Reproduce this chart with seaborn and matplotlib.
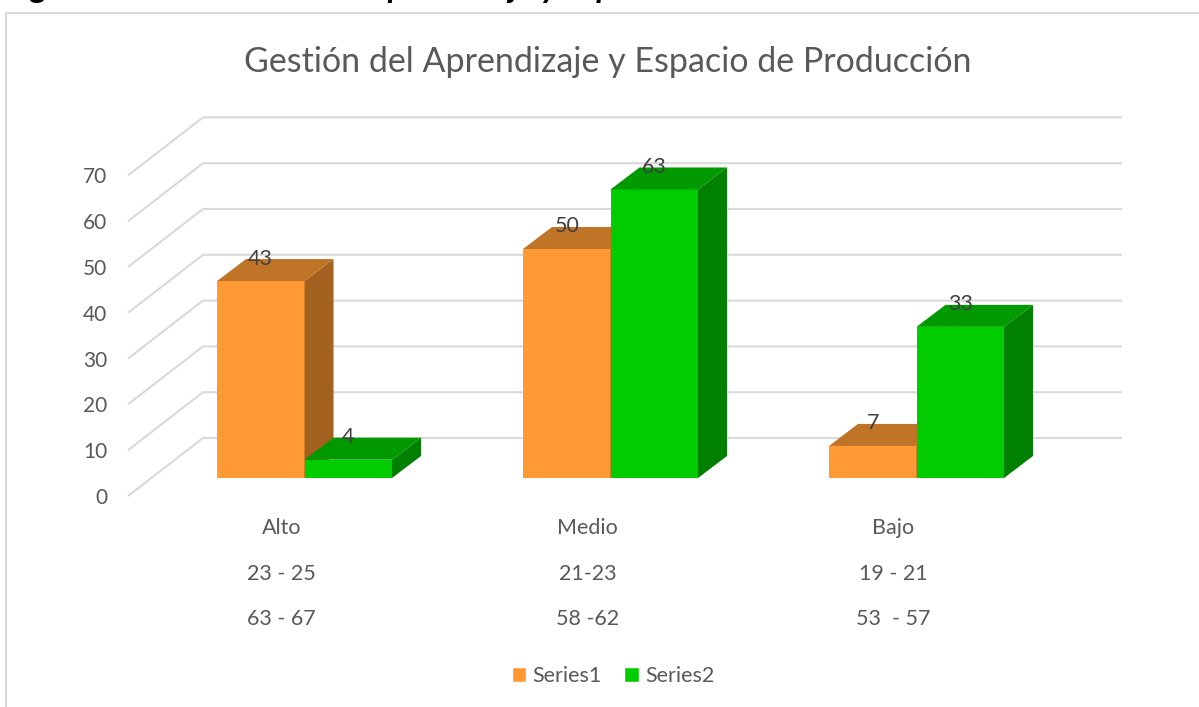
import matplotlib
matplotlib.use("Agg")
import matplotlib.pyplot as plt
import pandas as pd
import seaborn as sns
from matplotlib.lines import Line2D
from matplotlib.patches import Polygon
from matplotlib.transforms import ScaledTranslation

niveles = ["Alto", "Medio", "Bajo"]
rango_a = ["23 - 25", "21-23", "19 - 21"]
rango_b = ["63 - 67", "58 -62", "53  - 57"]
series1 = [43, 50, 7]
series2 = [4, 63, 33]
y_ticks = [0, 10, 20, 30, 40, 50, 60, 70]

W, H = 1199, 707
PX_PER_UNIT = 4.58
GROUP_PX = 306
BASE_PY = 478
DX = 29 / GROUP_PX          # bar depth, category units
DY = 22 / PX_PER_UNIT       # bar depth, value units
WALL_DY = 58 / PX_PER_UNIT  # floor depth of the back wall
GREY = "#595959"
GRID = "#D9D9D9"

sns.set_theme(style="white")
plt.rcParams["font.family"] = ["Lato", "DejaVu Sans"]

labels = [f"{a}\n{b}\n{c}" for a, b, c in zip(niveles, rango_a, rango_b)]
df = pd.DataFrame({
    "nivel": labels * 2,
    "valor": series1 + series2,
    "serie": ["Series1"] * 3 + ["Series2"] * 3,
})

fig = plt.figure(figsize=(W / 100, H / 100), dpi=100, facecolor="white")
left, right, top, bottom = 128, 1122, 100, 496
ax = fig.add_axes([left / W, 1 - bottom / H, (right - left) / W, (bottom - top) / H])

sns.barplot(
    df, x="nivel", y="valor", hue="serie",
    palette={"Series1": "#FF9933", "Series2": "#00CC00"},
    width=175 / GROUP_PX, gap=0, saturation=1, ax=ax,
)

ax.set_xlim((left - 304.5) / GROUP_PX, (right - 304.5) / GROUP_PX)
ax.set_ylim((BASE_PY - bottom) / PX_PER_UNIT, (BASE_PY - top) / PX_PER_UNIT)
ax.set_xlabel("")
ax.set_ylabel("")
sns.despine(ax=ax, left=True, bottom=True)

# back wall and side wall gridlines
x_start = ax.get_xlim()[0]
x_wall = (203 - 304.5) / GROUP_PX
y_floor = ax.get_ylim()[0]
for v in y_ticks:
    ax.plot([x_start, x_wall, ax.get_xlim()[1]],
            [y_floor + v, y_floor + v + WALL_DY, y_floor + v + WALL_DY],
            color=GRID, lw=1.5, zorder=1, solid_capstyle="butt", clip_on=False)

# fake 3d sides, built from the bars seaborn drew
bars = [p for p in ax.patches if p.get_height() > 0]
shades = {"#FF9933": ("#C07427", "#A3611F"), "#00CC00": ("#009900", "#008000")}
fronts = ["#FF9933"] * 3 + ["#00CC00"] * 3
z = 3
for bar, front in zip(bars, fronts):
    x0, x1 = bar.get_x(), bar.get_x() + bar.get_width()
    h = bar.get_height()
    top_col, side_col = shades[front]
    bar.set_zorder(z)
    bar.set_linewidth(0)
    ax.add_patch(Polygon([(x1, 0), (x1, h), (x1 + DX, h + DY), (x1 + DX, DY)],
                         color=side_col, lw=0, zorder=z + 0.1))
    ax.add_patch(Polygon([(x0, h), (x1, h), (x1 + DX, h + DY), (x0 + DX, h + DY)],
                         color=top_col, lw=0, zorder=z + 0.2))
    z += 1
    ax.text(x0 + (x1 - x0) / 2, h + 22.5 / PX_PER_UNIT, f"{h:.0f}", ha="center", va="center",
            fontsize=15.5, color="#404040", zorder=20)

# ticks, shifted to sit where the 3d chart has them
ax.set_yticks(y_ticks)
ax.set_xticks(range(3))
ax.set_xticklabels(labels, linespacing=2.58, fontsize=15.5, color=GREY)
ax.tick_params(axis="y", length=0, pad=15, labelsize=15, labelcolor=GREY)
ax.tick_params(axis="x", length=0, pad=16)
shift_y = ScaledTranslation(0, -18 / 100, fig.dpi_scale_trans)
shift_x = ScaledTranslation(-23 / 100, 0, fig.dpi_scale_trans)
for t in ax.get_yticklabels():
    t.set_transform(t.get_transform() + shift_y)
for t in ax.get_xticklabels():
    t.set_transform(t.get_transform() + shift_x)

sns.move_legend(
    ax, "center", bbox_to_anchor=(613 / W, 1 - 676 / H), bbox_transform=fig.transFigure,
    ncol=2, frameon=False, title=None, fontsize=15.5, labelcolor=GREY,
    handlelength=0.66, handleheight=0.66, handletextpad=0.3, columnspacing=1.05,
)

fig.suptitle("Gestión del Aprendizaje y Espacio de Producción", x=608 / W, y=1 - 62 / H,
             va="center", fontsize=24.5, color=GREY)

# chart frame and the heading cut off by the crop
fig.add_artist(Line2D([6 / W, 6 / W, 1], [0, 1 - 13 / H, 1 - 13 / H], color=GRID, lw=1.5))
fig.text(5 / W, 1 + 2 / H, "Figura N° 12. Gestión del Aprendizaje y Espacio de Producción",
         va="baseline", fontsize=24, fontweight="bold", fontstyle="italic", color="black")

fig.savefig("out.png", dpi=100, facecolor="white")
